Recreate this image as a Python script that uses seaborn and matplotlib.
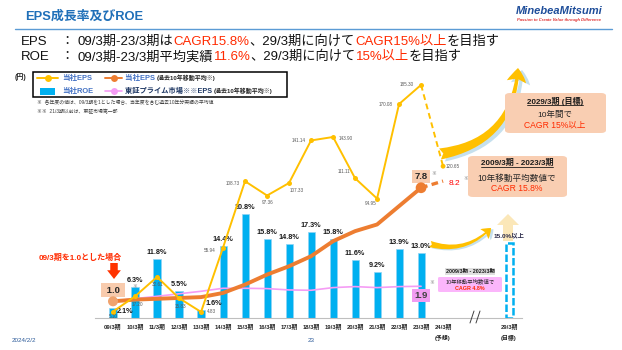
import numpy as np
import pandas as pd
import matplotlib
matplotlib.use("Agg")
import matplotlib.pyplot as plt
import seaborn as sns
from matplotlib.patches import FancyBboxPatch, Rectangle, FancyArrowPatch, Polygon
from matplotlib.lines import Line2D

# ---------------- data ----------------
periods = ["09/3期", "10/3期", "11/3期", "12/3期", "13/3期", "14/3期", "15/3期", "16/3期",
           "17/3期", "18/3期", "19/3期", "20/3期", "21/3期", "22/3期", "23/3期"]
forecast_period = "24/3期"
target_period = "29/3期"
roe = [2.1, 6.3, 11.8, 5.5, 1.6, 14.4, 20.8, 15.8, 14.8, 17.3, 15.8, 11.6, 9.2, 13.9, 13.0]
roe_target = 15.0
eps = [5.10, 17.20, 32.61, 15.83, 4.83, 55.94, 108.73, 97.36, 107.33, 141.14,
       143.90, 111.11, 94.95, 170.08, 185.30]
eps_forecast = 120.65
eps_ma_index = [1.0, 1.1, 1.15, 1.2, 1.25, 1.5, 2.0, 2.6, 3.1, 3.7, 4.6, 5.2, 5.6, 6.7, 7.8]
eps_ma_index_forecast = 8.2
tse_ma_index = [1.0, 1.16, 1.3, 1.45, 1.6, 1.78, 1.78, 1.76, 1.68, 1.66, 1.82, 1.88, 1.82, 1.88, 1.9]

# ---------------- style ----------------
sns.set_style("white")
FAM = ["Liberation Sans", "Noto Sans CJK JP"]
plt.rcParams["font.family"] = FAM

W, H = 622, 350
fig = plt.figure(figsize=(W / 100, H / 100), dpi=100)
fig.patch.set_facecolor("white")
R = fig.canvas.get_renderer()


def fx(px):
    return px / W


def fy(py):
    return 1 - py / H


def rich(x, y, parts, size, va="center"):
    for s, col, w, sz in parts:
        t = fig.text(fx(x), fy(y), s, color=col, fontsize=sz if sz else size,
                     weight=w, ha="left", va=va)
        x += t.get_window_extent(R).width
    return x


# slot layout (gap between forecast and target)
slots = periods + [forecast_period, None, None, target_period]
pos = {p: i for i, p in enumerate(slots) if p is not None}

BLUE = "#00B0F0"
YEL = "#FFC000"
ORG = "#ED7D31"
PINK = "#F59CF5"

ax = fig.add_axes([fx(90), fy(318), fx(530) - fx(90), fy(60) - fy(318)])
ax.patch.set_alpha(0)

# ---- ROE bars ----
bar_df = pd.DataFrame({"x": [pos[p] for p in periods] + [pos[target_period]],
                       "roe": roe + [roe_target]})
sns.barplot(data=bar_df, x="x", y="roe", native_scale=True, orient="x", width=0.32,
            color=BLUE, saturation=1, edgecolor="#8FD3F5", linewidth=0.5,
            errorbar=None, ax=ax)
bars = sorted(ax.patches, key=lambda p: p.get_x())
tb = bars[-1]
tb.set_facecolor("white")
tb.set_edgecolor(BLUE)
tb.set_linewidth(1.8)
tb.set_linestyle((0, (3, 1)))

for p, v in zip(periods, roe):
    x = pos[p]
    if p == "09/3期":
        ax.annotate(f"{v:.1f}%", (x, v), xytext=(3, -3), textcoords="offset points",
                    ha="left", va="center", fontsize=5.2, weight="bold", color="#1a1a1a")
    elif p == "13/3期":
        ax.annotate(f"{v:.1f}%", (x, v), xytext=(3, 4.5), textcoords="offset points",
                    ha="left", va="center", fontsize=5.2, weight="bold", color="#1a1a1a")
    else:
        ax.annotate(f"{v:.1f}%", (x, v), xytext=(0, 2), textcoords="offset points",
                    ha="center", va="bottom", fontsize=5.2, weight="bold", color="#1a1a1a")
ax.annotate(f"{roe_target:.1f}%以上", (pos[target_period], roe_target), xytext=(0, 3.5),
            textcoords="offset points", ha="center", va="bottom", fontsize=4.6,
            weight="bold", color="#2a2a4a", zorder=6)

ax.set_ylim(0, 51.6)
ax.set_xlim(-1.045, 18.95)
for s in ["top", "right", "left"]:
    ax.spines[s].set_visible(False)
ax.spines["bottom"].set_color("#BFBFBF")
ax.spines["bottom"].set_linewidth(0.8)
ax.spines["bottom"].set_bounds(-0.8, 18.6)
ax.set_yticks([])
tick_periods = periods + [forecast_period, target_period]
suffix = {forecast_period: "\n(予想)", target_period: "\n(目標)"}
ax.set_xticks([pos[p] for p in tick_periods])
ax.set_xticklabels([p + suffix.get(p, "") for p in tick_periods], fontsize=4.2,
                   weight="bold", color="#262626", linespacing=2.0)
ax.tick_params(axis="x", length=0, pad=4)
ax.set_xlabel("")
ax.set_ylabel("")

# ---- index lines (10-yr moving average) ----
axi = ax.twinx()
axi.set_ylim(0, 15.45)
xs = [pos[p] for p in periods]
sns.lineplot(x=xs, y=tse_ma_index, color=PINK, lw=1.2, ax=axi, sort=False)
sns.lineplot(x=xs, y=eps_ma_index, color=ORG, lw=2.8, ax=axi, sort=False)
sns.lineplot(x=[xs[-1], pos[forecast_period]], y=[eps_ma_index[-1], eps_ma_index_forecast],
             color=ORG, lw=2.4, linestyle=(0, (2, 1.3)), ax=axi, sort=False)
sns.scatterplot(x=[xs[0]], y=[eps_ma_index[0]], color="#F0A36E", s=52, edgecolor="none",
                ax=axi, zorder=5)
sns.scatterplot(x=[xs[-1]], y=[eps_ma_index[-1]], color=ORG, s=60, edgecolor="none",
                ax=axi, zorder=5)

axi.annotate(f" {eps_ma_index[0]:.1f} ", (xs[0], eps_ma_index[0]), xytext=(0, 8),
             textcoords="offset points", ha="center", va="center", fontsize=6.8,
             weight="bold", color="#262626",
             bbox=dict(boxstyle="square,pad=0.25", fc="#F8CBAD", ec="none"))
axi.annotate("※", (xs[0], eps_ma_index[0]), xytext=(16, 11), textcoords="offset points",
             ha="center", va="center", fontsize=3.5, color="#7F7F7F")
axi.annotate(f"{eps_ma_index[-1]:.1f}", (xs[-1], eps_ma_index[-1]), xytext=(0, 8),
             textcoords="offset points", ha="center", va="center", fontsize=6.8,
             weight="bold", color="#262626",
             bbox=dict(boxstyle="square,pad=0.22", fc="#F8CBAD", ec="none"))
axi.annotate("※", (xs[-1], eps_ma_index[-1]), xytext=(9, 10), textcoords="offset points",
             ha="center", va="center", fontsize=3.5, color="#7F7F7F")
axi.annotate(f"{eps_ma_index_forecast:.1f}", (pos[forecast_period], eps_ma_index_forecast),
             xytext=(4, -2), textcoords="offset points", ha="left", va="center",
             fontsize=6, color="#FF0000")
axi.annotate("※", (pos[forecast_period], eps_ma_index_forecast), xytext=(16.5, 2),
             textcoords="offset points", ha="center", va="center", fontsize=3.3,
             color="#7F7F7F")
axi.annotate(f"{tse_ma_index[-1]:.1f}", (xs[-1], tse_ma_index[-1]), xytext=(0, -6.5),
             textcoords="offset points", ha="center", va="center", fontsize=6.8,
             weight="bold", color="#404040",
             bbox=dict(boxstyle="square,pad=0.22", fc="#F29CF2", ec="none"))
axi.annotate("※", (xs[-1], tse_ma_index[-1]), xytext=(8, 3), textcoords="offset points",
             ha="center", va="center", fontsize=3.5, color="#7F7F7F")

# ---- EPS line ----
axe = ax.twinx()
axe.set_ylim(0, 205.1)
sns.lineplot(x=xs, y=eps, color=YEL, lw=1.4, marker="o", markersize=3.6,
             markeredgewidth=0, ax=axe, sort=False)
sns.lineplot(x=[xs[-1], pos[forecast_period]], y=[eps[-1], eps_forecast], color=YEL,
             lw=1.4, linestyle=(0, (3, 2)), ax=axe, sort=False)
sns.scatterplot(x=[pos[forecast_period]], y=[eps_forecast], color=YEL, s=12,
                edgecolor="none", ax=axe)

eps_lab = {  # (dx px, dy px, ha)
    "09/3期": (0, -4.5, "center"), "10/3期": (2, -8.5, "center"),
    "11/3期": (1, -8, "center"), "12/3期": (1, -8, "center"),
    "13/3期": (6, 0, "left"), "14/3期": (-8, -3, "right"),
    "15/3期": (-5, -2.5, "right"), "16/3期": (1, -7, "center"),
    "17/3期": (8, -8, "center"), "18/3期": (-5, -0.5, "right"),
    "19/3期": (6, -2, "left"), "20/3期": (-5, 7, "right"),
    "21/3期": (-1, -4.5, "right"), "22/3期": (-6, 0, "right"),
    "23/3期": (-7, 0, "right"),
}
for p, v in zip(periods, eps):
    dx, dy, ha = eps_lab[p]
    axe.annotate(f"{v:.2f}", (pos[p], v), xytext=(dx * 0.72, dy * 0.72),
                 textcoords="offset points", ha=ha, va="center", fontsize=3.3,
                 color="#595959")
axe.annotate(f"{eps_forecast:.2f}", (pos[forecast_period], eps_forecast),
             xytext=(3 * 0.72, 0), textcoords="offset points", ha="left", va="center",
             fontsize=3.3, color="#595959")

for a in (axi, axe):
    for s in a.spines.values():
        s.set_visible(False)
    a.set_yticks([])
    a.set_ylabel("")
    a.set_xlabel("")
ax.set_xlim(-1.045, 18.95)

# axis break marks
for x0 in (470, 476):
    fig.add_artist(Line2D([fx(x0), fx(x0 + 4)], [fy(323), fy(311)], color="#404040", lw=0.7))

# ---------------- header ----------------
fig.text(fx(25), fy(17), "EPS成長率及びROE", fontsize=9.3, weight="bold", color="#1F6FB8",
         ha="left", va="center")
fig.add_artist(Line2D([fx(15), fx(612)], [fy(29), fy(29)], color="#5B9BD5", lw=1))
fig.text(fx(603), fy(11), "MinebeaMitsumi", fontsize=8, weight="bold", style="italic",
         color="#1F4E9A", ha="right", va="center")
fig.text(fx(601), fy(20), "Passion to Create Value through Difference", fontsize=3,
         style="italic", weight="bold", color="#E03030", ha="right", va="center")

HS = 9.5
fig.text(fx(21), fy(42), "EPS", fontsize=HS, color="#111111", ha="left", va="center")
fig.text(fx(60), fy(42), "：", fontsize=HS, color="#111111", ha="left", va="center")
rich(78, 42, [("09/3期-23/3期は", "#111111", "normal", None),
              ("CAGR15.8%", "#FF2A00", "normal", None),
              ("、29/3期に向けて", "#111111", "normal", None),
              ("CAGR15%以上", "#FF2A00", "normal", None),
              ("を目指す", "#111111", "normal", None)], HS)
fig.text(fx(21), fy(57), "ROE", fontsize=HS, color="#111111", ha="left", va="center")
fig.text(fx(60), fy(57), "：", fontsize=HS, color="#111111", ha="left", va="center")
rich(78, 57, [("09/3期-23/3期平均実績", "#111111", "normal", None),
              ("11.6%", "#FF2A00", "normal", None),
              ("、29/3期に向けて", "#111111", "normal", None),
              ("15%以上", "#FF2A00", "normal", None),
              ("を目指す", "#111111", "normal", None)], HS)

# ---------------- legend ----------------
fig.text(fx(15), fy(77), "(円)", fontsize=5, weight="bold", color="#262626", ha="left",
         va="center")
fig.add_artist(Rectangle((fx(33), fy(97)), fx(287) - fx(33), fy(72) - fy(97),
                         transform=fig.transFigure, fill=False, ec="black", lw=1.1))
LB = "#4472C4"
fig.add_artist(Line2D([fx(37), fx(58)], [fy(78), fy(78)], color=YEL, lw=1.4))
fig.add_artist(Line2D([fx(47.5)], [fy(78)], color=YEL, marker="o", ms=5, mew=0))
fig.text(fx(62), fy(78), "当社EPS", fontsize=5.4, weight="bold", color=LB, va="center")
fig.add_artist(Line2D([fx(105), fx(122)], [fy(78), fy(78)], color=ORG, lw=1.4))
fig.add_artist(Line2D([fx(113.5)], [fy(78)], color=ORG, marker="o", ms=5, mew=0))
rich(125, 78, [("当社EPS ", LB, "bold", 5.4), ("(過去10年移動平均※)", "#262626", "bold", 4.3)], 5.4)
fig.add_artist(Rectangle((fx(40), fy(94.5)), fx(55) - fx(40), fy(87.5) - fy(94.5),
                         transform=fig.transFigure, color=BLUE, lw=0))
fig.text(fx(62), fy(91), "当社ROE", fontsize=5.4, weight="bold", color=LB, va="center")
fig.add_artist(Line2D([fx(105), fx(122)], [fy(91), fy(91)], color=PINK, lw=1.2))
fig.add_artist(Line2D([fx(113.5)], [fy(91)], color=PINK, marker="o", ms=5, mew=0))
rich(125, 91, [("東証プライム市場※※EPS ", "#1F3864", "bold", 5.2),
               ("(過去10年移動平均※)", "#262626", "bold", 4.3)], 5.2)
fig.text(fx(37), fy(103), "※  各年度の値は、09/3期を1とした場合、当年度を含む過去10年分実績の平均値",
         fontsize=3.5, color="#404040", va="center")
fig.text(fx(37), fy(111.5), "※※  21/3期以前は、東証市場第一部", fontsize=3.5,
         color="#404040", va="center")

# ---------------- annotations ----------------
fig.text(fx(80), fy(258), "09/3期を1.0とした場合", fontsize=5.8, weight="bold",
         color="#FF2A00", ha="center", va="center")
fig.add_artist(FancyArrowPatch((fx(114), fy(263)), (fx(114), fy(279)),
                               transform=fig.transFigure,
                               arrowstyle="simple,head_width=1.1,head_length=0.7,tail_width=0.6",
                               mutation_scale=9, color="#FF3300", lw=0, shrinkA=0, shrinkB=0))

# curved arrows
for dx, dy, col in ((4, 2, "#C5E0EE"), (0, 0, "#FFC000")):
    fig.add_artist(FancyArrowPatch((fx(440 + dx), fy(154 + dy)), (fx(518 + dx), fy(68 + dy)),
                                   transform=fig.transFigure, connectionstyle="arc3,rad=0.4",
                                   arrowstyle="fancy,head_length=1.0,head_width=1.4,tail_width=0.8",
                                   mutation_scale=10, color=col, lw=0, shrinkA=0, shrinkB=0,
                                   zorder=0.6))
    fig.add_artist(FancyArrowPatch((fx(430 + dx * 0.6), fy(244 + dy * 0.6)),
                                   (fx(491 + dx * 0.6), fy(228 + dy * 0.6)),
                                   transform=fig.transFigure, connectionstyle="arc3,rad=0.3",
                                   arrowstyle="fancy,head_length=1.0,head_width=1.4,tail_width=0.7",
                                   mutation_scale=6.5, color=col, lw=0, shrinkA=0, shrinkB=0,
                                   zorder=0.6))
# up arrow above target bar
fig.add_artist(Polygon([(fx(503), fy(241)), (fx(513), fy(241)), (fx(513), fy(225)),
                        (fx(519), fy(225)), (fx(508), fy(214)), (fx(497), fy(225)),
                        (fx(503), fy(225))], closed=True, transform=fig.transFigure,
                       fc="#FBE7B8", ec="none", zorder=-1))


def box(x0, y0, x1, y1, fc, r=4):
    fig.add_artist(FancyBboxPatch((fx(x0), fy(y1)), fx(x1) - fx(x0), fy(y0) - fy(y1),
                                  boxstyle=f"round,pad=0,rounding_size={r / W}",
                                  transform=fig.transFigure, fc=fc, ec="none"))


def utitle(xc, y, s, size, bg=None):
    t = fig.text(fx(xc), fy(y), s, fontsize=size, weight="bold", color="#1a1a1a",
                 ha="center", va="center",
                 bbox=dict(boxstyle="square,pad=0.1", fc=bg, ec="none") if bg else None)
    w = t.get_window_extent(R).width
    fig.add_artist(Line2D([fx(xc - w / 2), fx(xc + w / 2)], [fy(y + size * 0.75), fy(y + size * 0.75)],
                          color="#1a1a1a", lw=0.6))


box(505, 93, 606, 133, "#F9CEB2", 5)
utitle(555, 101, "2029/3期 (目標)", 5.8)
fig.text(fx(555), fy(115), "10年間で", fontsize=6.1, color="#262626", ha="center", va="center")
fig.text(fx(555), fy(125), "CAGR 15%以上", fontsize=6.2, color="#FF2A00", ha="center",
         va="center")

box(468, 156, 567, 197, "#F9CEB2", 5)
utitle(517, 163, "2009/3期 - 2023/3期", 5.8)
fig.text(fx(517), fy(178), "10年移動平均数値で", fontsize=6.2, color="#262626", ha="center",
         va="center")
fig.text(fx(517), fy(188.5), "CAGR 15.8%", fontsize=6.2, color="#FF2A00", ha="center",
         va="center")

box(438, 277, 502, 292, "#FBB6FB", 2)
utitle(470, 271.5, "2009/3期 - 2023/3期", 3.9, bg="#E0E0E0")
fig.text(fx(470), fy(282), "10年移動平均数値で", fontsize=3.9, color="#262626", ha="center",
         va="center")
fig.text(fx(470), fy(288.5), "CAGR 4.8%", fontsize=3.9, weight="bold", color="#FF2A00",
         ha="center", va="center")

# footer
fig.text(fx(12), fy(340), "2024/2/2", fontsize=4.5, color="#2E5C9A", va="center")
fig.text(fx(311), fy(340), "23", fontsize=4.5, color="#2E5C9A", ha="center", va="center")

fig.savefig("out.png", dpi=100)
